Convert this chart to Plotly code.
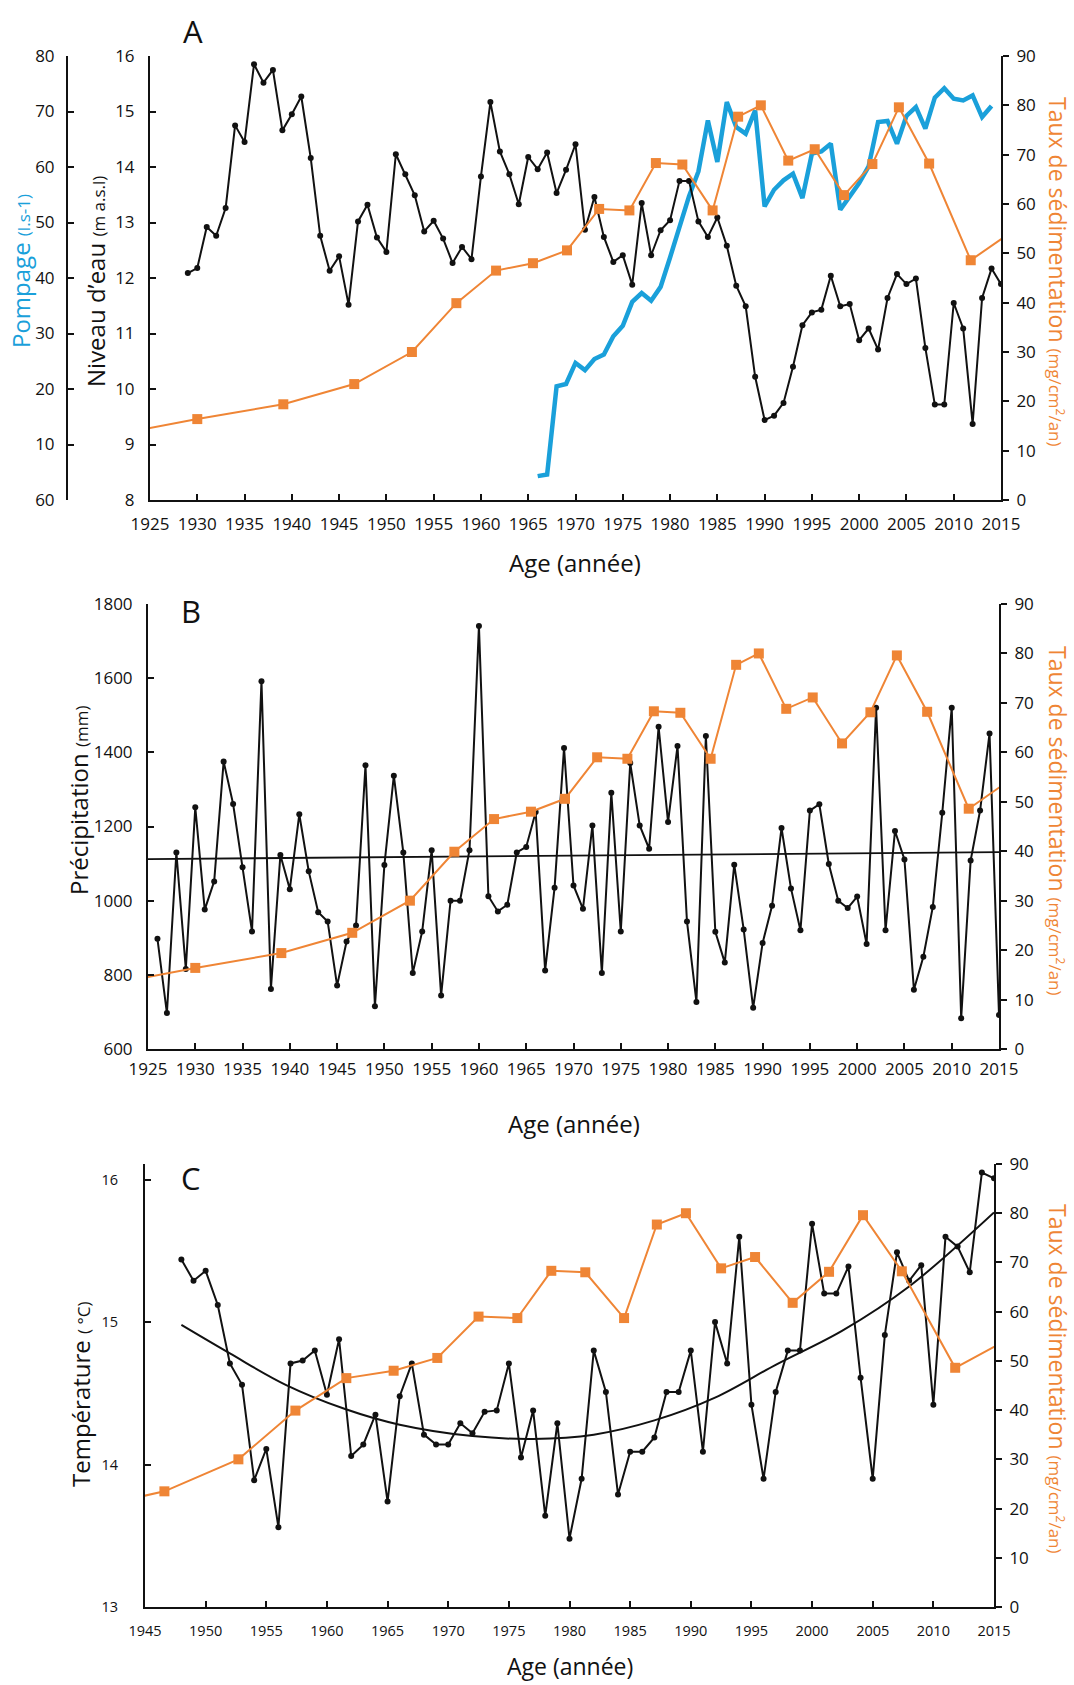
import plotly.graph_objects as go

# ---------------- data ----------------
years_niveau = list(range(1929, 2016))
niveau = [12.09, 12.18, 12.92, 12.76, 13.26, 14.75, 14.45, 15.85, 15.52, 15.75,
          14.66, 14.95, 15.27, 14.16, 12.76, 12.13, 12.39, 11.52, 13.02, 13.32,
          12.73, 12.47, 14.23, 13.87, 13.49, 12.84, 13.03, 12.71, 12.27, 12.56,
          12.34, 13.83, 15.17, 14.28, 13.87, 13.33, 14.18, 13.96, 14.26, 13.53,
          13.95, 14.41, 12.87, 13.46, 12.74, 12.29, 12.41, 11.88, 13.35, 12.41,
          12.86, 13.04, 13.75, 13.75, 13.02, 12.74, 13.09, 12.58, 11.86, 11.49,
          10.22, 9.44, 9.52, 9.75, 10.40, 11.15, 11.38, 11.43, 12.04, 11.49,
          11.53, 10.88, 11.09, 10.71, 11.64, 12.07, 11.89, 11.99, 10.74, 9.72,
          9.72, 11.55, 11.09, 9.37, 11.64, 12.17, 11.89]

years_pompage = list(range(1966, 2015))
pompage = [4.3, 4.6, 20.5, 20.9, 24.7, 23.4, 25.4, 26.2, 29.5, 31.4,
           35.7, 37.3, 35.9, 38.4, 43.7, 49.3, 54.7, 59.2, 68.4, 60.9,
           71.7, 67.2, 66.0, 70.2, 52.9, 55.9, 57.6, 58.8, 54.4, 62.4,
           62.8, 64.2, 52.3, 54.7, 57.1, 60.1, 68.1, 68.3, 64.2, 69.2,
           70.8, 66.9, 72.5, 74.2, 72.3, 72.0, 72.9, 69.0, 71.0]

sed_years = [1921.5, 1930.0, 1939.1, 1946.6, 1952.7, 1957.4, 1961.6, 1965.5,
             1969.1, 1972.5, 1975.7, 1978.5, 1981.3, 1984.5, 1987.2, 1989.6,
             1992.5, 1995.3, 1998.4, 2001.4, 2004.2, 2007.4, 2011.8, 2016.6]
sed_vals = [13.3, 16.4, 19.4, 23.5, 30.0, 39.9, 46.5, 48.0,
            50.6, 59.0, 58.7, 68.3, 68.0, 58.7, 77.7, 80.0,
            68.8, 71.1, 61.8, 68.1, 79.6, 68.2, 48.6, 55.0]

years_precip = list(range(1926, 2016))
precip = [897, 697, 1130, 816, 1252, 976, 1052, 1375, 1261, 1090,
          917, 1592, 762, 1123, 1031, 1233, 1079, 969, 944, 771,
          890, 933, 1365, 715, 1096, 1337, 1130, 805, 917, 1136,
          744, 1000, 1000, 1136, 1741, 1012, 971, 989, 1130, 1145,
          1239, 812, 1035, 1412, 1041, 978, 1203, 805, 1291, 917,
          1371, 1203, 1140, 1469, 1212, 1417, 944, 727, 1444, 916,
          833, 1097, 922, 711, 886, 986, 1196, 1033, 920, 1243,
          1260, 1099, 1000, 980, 1011, 883, 1520, 920, 1188, 1111,
          760, 849, 983, 1237, 1520, 683, 1108, 1243, 1451, 692]
precip_trend_years = [1925, 2015]
precip_trend = [1112, 1131]

years_temp = list(range(1948, 2016))
temp = [15.44, 15.29, 15.36, 15.12, 14.71, 14.56, 13.89, 14.11, 13.56, 14.71,
        14.73, 14.80, 14.49, 14.88, 14.06, 14.14, 14.35, 13.74, 14.48, 14.71,
        14.21, 14.14, 14.14, 14.29, 14.22, 14.37, 14.38, 14.71, 14.05, 14.38,
        13.64, 14.29, 13.48, 13.90, 14.80, 14.51, 13.79, 14.09, 14.09, 14.19,
        14.51, 14.51, 14.80, 14.09, 15.00, 14.71, 15.60, 14.42, 13.90, 14.51,
        14.80, 14.80, 15.69, 15.20, 15.20, 15.39, 14.61, 13.90, 14.91, 15.49,
        15.29, 15.40, 14.42, 15.60, 15.53, 15.35, 16.05, 16.01]
temp_trend_years = [1948, 1952, 1956.6, 1961.5, 1966, 1972, 1977, 1982,
                    1987, 1992, 1997, 2002.5, 2008, 2015]
temp_trend = [14.98, 14.78, 14.56, 14.39, 14.28, 14.20, 14.18, 14.21,
              14.31, 14.47, 14.70, 14.94, 15.25, 15.77]

x_ticks_ab = list(range(1925, 2016, 5))
x_ticks_c = list(range(1945, 2016, 5))
pompage_tickvals = list(range(0, 81, 10))
pompage_ticktext = ["60", "10", "20", "30", "40", "50", "60", "70", "80"]

# ---------------- style ----------------
FONT = "Open Sans"
BLACK = "#111111"
ORANGE = "#EF8535"
BLUE = "#1AA0DA"
W, H = 1074, 1685


def px_x(p):
    return p / W


def px_y(p):
    return 1 - p / H


fig = go.Figure()

# Panel A
fig.add_trace(go.Scatter(x=years_pompage, y=pompage, xaxis="x", yaxis="y",
                         mode="lines", line=dict(color=BLUE, width=4.5),
                         showlegend=False))
fig.add_trace(go.Scatter(x=years_niveau, y=niveau, xaxis="x", yaxis="y2",
                         mode="lines+markers", line=dict(color=BLACK, width=2),
                         marker=dict(color=BLACK, size=6), showlegend=False))
fig.add_trace(go.Scatter(x=sed_years, y=sed_vals, xaxis="x", yaxis="y3",
                         mode="lines+markers", line=dict(color=ORANGE, width=2),
                         marker=dict(color=ORANGE, size=10, symbol="square"),
                         showlegend=False))

# Panel B
fig.add_trace(go.Scatter(x=precip_trend_years, y=precip_trend, xaxis="x2", yaxis="y4",
                         mode="lines", line=dict(color=BLACK, width=1.8),
                         showlegend=False))
fig.add_trace(go.Scatter(x=years_precip, y=precip, xaxis="x2", yaxis="y4",
                         mode="lines+markers", line=dict(color=BLACK, width=2),
                         marker=dict(color=BLACK, size=6), showlegend=False))
fig.add_trace(go.Scatter(x=sed_years, y=sed_vals, xaxis="x2", yaxis="y5",
                         mode="lines+markers", line=dict(color=ORANGE, width=2),
                         marker=dict(color=ORANGE, size=10, symbol="square"),
                         showlegend=False))

# Panel C
fig.add_trace(go.Scatter(x=temp_trend_years, y=temp_trend, xaxis="x3", yaxis="y6",
                         mode="lines", line=dict(color=BLACK, width=2, shape="spline"),
                         showlegend=False))
fig.add_trace(go.Scatter(x=years_temp, y=temp, xaxis="x3", yaxis="y6",
                         mode="lines+markers", line=dict(color=BLACK, width=2),
                         marker=dict(color=BLACK, size=6), showlegend=False))
fig.add_trace(go.Scatter(x=sed_years, y=sed_vals, xaxis="x3", yaxis="y7",
                         mode="lines+markers", line=dict(color=ORANGE, width=2),
                         marker=dict(color=ORANGE, size=10, symbol="square"),
                         showlegend=False))

axis_common = dict(showline=True, linecolor=BLACK, linewidth=2, showgrid=False,
                   zeroline=False, tickcolor=BLACK, tickwidth=2, ticklen=6,
                   automargin=False)
tick17 = dict(family=FONT, size=17, color=BLACK)
tick14 = dict(family=FONT, size=14.5, color=BLACK)

dom_a_x = [px_x(150), px_x(1001)]
dom_a_y = [px_y(500), px_y(56)]
dom_b_x = [px_x(148), px_x(999)]
dom_b_y = [px_y(1049), px_y(604)]
dom_c_x = [px_x(145), px_x(994)]
dom_c_y = [px_y(1607), px_y(1164)]

fig.update_layout(
    width=W, height=H, autosize=False,
    margin=dict(l=0, r=0, t=0, b=0, pad=0),
    paper_bgcolor="white", plot_bgcolor="rgba(0,0,0,0)",
    font=dict(family=FONT, color=BLACK),
    # Panel A
    xaxis=dict(domain=dom_a_x, anchor="y2", range=[1925, 2015], tickvals=x_ticks_ab,
               ticks="inside", tickfont=tick17, ticklabelstandoff=8, **axis_common),
    yaxis=dict(domain=dom_a_y, anchor="free", position=px_x(67), side="left",
               range=[0, 80], tickvals=pompage_tickvals, ticktext=pompage_ticktext,
               ticks="inside", tickfont=tick17, ticklabelstandoff=8, **axis_common),
    yaxis2=dict(domain=dom_a_y, anchor="x", overlaying="y", side="left",
                range=[8, 16], dtick=1, ticks="inside", tickfont=tick17,
                ticklabelstandoff=10, **axis_common),
    yaxis3=dict(domain=dom_a_y, anchor="x", overlaying="y", side="right",
                range=[0, 90], dtick=10, ticks="outside", tickfont=tick17,
                ticklabelstandoff=4, **axis_common),
    # Panel B
    xaxis2=dict(domain=dom_b_x, anchor="y4", range=[1925, 2015], tickvals=x_ticks_ab,
                ticks="inside", tickfont=tick17, ticklabelstandoff=4, **axis_common),
    yaxis4=dict(domain=dom_b_y, anchor="x2", range=[600, 1800], dtick=200,
                ticks="inside", tickfont=tick17, ticklabelstandoff=10, **axis_common),
    yaxis5=dict(domain=dom_b_y, anchor="x2", overlaying="y4", side="right",
                range=[0, 90], dtick=10, ticks="outside", tickfont=tick17,
                ticklabelstandoff=4, **axis_common),
    # Panel C
    xaxis3=dict(domain=dom_c_x, anchor="y6", range=[1945, 2015], tickvals=x_ticks_c,
                ticks="inside", tickfont=tick14, ticklabelstandoff=10, **axis_common),
    yaxis6=dict(domain=dom_c_y, anchor="x3", range=[13, 16.11], tickvals=[13, 14, 15, 16],
                ticks="inside", tickfont=tick14, ticklabelstandoff=22, **axis_common),
    yaxis7=dict(domain=dom_c_y, anchor="x3", overlaying="y6", side="right",
                range=[0, 90], dtick=10, ticks="outside", tickfont=tick17,
                ticklabelstandoff=4, **axis_common),
)

small = "font-size:17px"
sed_title = ("Taux de sédimentation <span style='" + small + "'>(mg/cm<sup>2</sup>/an)</span>")

annotations = [
    # panel letters
    dict(text="A", x=px_x(193), y=px_y(31), font=dict(size=31)),
    dict(text="B", x=px_x(191), y=px_y(611), font=dict(size=31)),
    dict(text="C", x=px_x(191), y=px_y(1178), font=dict(size=31)),
    # panel A titles
    dict(text="Pompage <span style='" + small + "'>(l.s-1)</span>", x=px_x(20), y=px_y(271),
         textangle=-90, font=dict(size=24, color=BLUE)),
    dict(text="Niveau d’eau <span style='" + small + "'>(m a.s.l)</span>", x=px_x(95), y=px_y(282),
         textangle=-90, font=dict(size=24)),
    dict(text=sed_title, x=px_x(1058), y=px_y(272), textangle=90,
         font=dict(size=23, color=ORANGE)),
    dict(text="Age (année)", x=px_x(575), y=px_y(562), font=dict(size=24)),
    # panel B titles
    dict(text="Précipitation <span style='" + small + "'>(mm)</span>", x=px_x(78), y=px_y(801),
         textangle=-90, font=dict(size=24)),
    dict(text=sed_title, x=px_x(1058), y=px_y(821), textangle=90,
         font=dict(size=23, color=ORANGE)),
    dict(text="Age (année)", x=px_x(574), y=px_y(1123), font=dict(size=24)),
    # panel C titles
    dict(text="Température <span style='" + small + "'>( °C)</span>", x=px_x(80), y=px_y(1395),
         textangle=-90, font=dict(size=24)),
    dict(text=sed_title, x=px_x(1058), y=px_y(1379), textangle=90,
         font=dict(size=23, color=ORANGE)),
    dict(text="Age (année)", x=px_x(570), y=px_y(1666), font=dict(size=23)),
]
for a in annotations:
    a.setdefault("font", {})
    a["font"].setdefault("color", BLACK)
    a["font"]["family"] = FONT
    a.update(xref="paper", yref="paper", showarrow=False, xanchor="center", yanchor="middle")
fig.update_layout(annotations=annotations)

fig.write_html("out.html", config={"displayModeBar": False},
               post_script="document.body.style.margin='0';document.body.style.overflow='hidden';")
